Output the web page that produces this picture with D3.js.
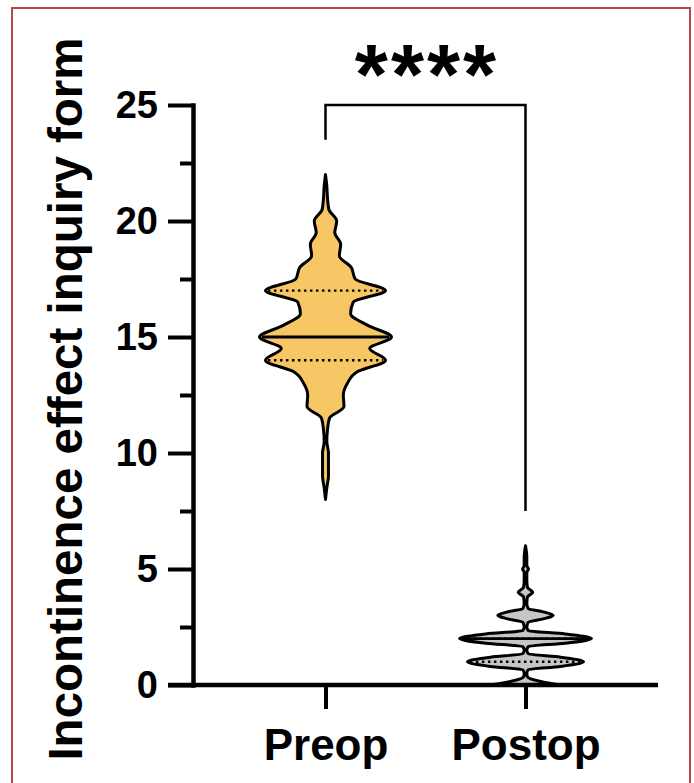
<!doctype html>
<html>
<head>
<meta charset="utf-8">
<title>Incontinence effect inquiry form</title>
<script src="https://d3js.org/d3.v7.min.js"></script>
<style>
  body { margin: 0; background: #fff; }
  svg text { font-family: "Liberation Sans", Arial, sans-serif; font-weight: bold; fill: #000; }
</style>
</head>
<body>
<svg width="694" height="783"></svg>
<script>
var GROUPS = ["Preop", "Postop"];

// violin outlines: score level and relative density (max = 100)
var PREOP_LEVELS  = [8, 8.5, 9, 9.5, 10, 10.5, 11, 11.5, 12, 12.5, 13, 13.5, 14, 14.5, 15, 15.5, 16, 16.5, 17, 17.5, 18, 18.5, 19, 19.5, 20, 20.5, 21, 21.5, 22];
var PREOP_DENSITY = [0, 2, 4.5, 4.5, 4.5, 2, 3, 6, 28, 27, 33, 48, 91, 67, 100, 64, 38, 42, 91, 45, 39, 21, 23, 14, 17, 5, 3, 2, 0];
var PREOP_QUARTILES = [14, 15, 17];

var POSTOP_LEVELS  = [0, 0.15, 0.35, 0.5, 0.65, 0.8, 1, 1.2, 1.35, 1.5, 1.65, 1.8, 2, 2.2, 2.35, 2.5, 2.7, 2.85, 3, 3.15, 3.3, 3.5, 3.8, 4, 4.2, 4.5, 4.85, 5, 5.15, 5.5, 6];
var POSTOP_DENSITY = [53, 23, 3, 2, 4, 53, 88, 53, 4, 2, 4, 60, 100, 60, 4, 2, 4, 27, 42, 27, 4, 2, 3, 11, 3, 2, 2, 4.5, 2, 2, 0];
var POSTOP_QUARTILES = [1, 2, 2];

var Y_MAJOR_TICKS = [0, 5, 10, 15, 20, 25];
var Y_MINOR_TICKS = [2.5, 7.5, 12.5, 17.5, 22.5];
var Y_TITLE = "Incontinence effect inquiry form";
var SIGNIFICANCE = "****";
var BRACKET_TOP = 25;
var BRACKET_ENDS = [23.5, 7.5];

var FILLS = { Preop: "#f7c766", Postop: "#c6c6c6" };

var violins = [
   { name: "Preop", levels: PREOP_LEVELS, density: PREOP_DENSITY, quartiles: PREOP_QUARTILES },
   { name: "Postop", levels: POSTOP_LEVELS, density: POSTOP_DENSITY, quartiles: POSTOP_QUARTILES }
];

const mLeft = 193, mRight = 658, mTop = 105, mBottom = 685;
const svg = d3.select("svg");

// frame
svg.append("rect")
   .attr("x", 12).attr("y", 8).attr("width", 678).attr("height", 800)
   .attr("fill", "none").attr("stroke", "#b9444f").attr("stroke-width", 2);

const y = d3.scaleLinear().domain([0, 25]).range([mBottom, mTop]);
const x = d3.scalePoint().domain(GROUPS).range([mLeft, mRight]).padding(0.6625);
const w = d3.scaleLinear().domain([0, 100]).range([0, 66]);

// violins
violins.forEach(function(v) {
   const cx = x(v.name);
   const pts = v.levels.map(function(l, i) { return { v: l, d: v.density[i] }; }).reverse();
   const area = d3.area()
      .y(function(d) { return y(d.v); })
      .x0(function(d) { return cx - w(d.d); })
      .x1(function(d) { return cx + w(d.d); })
      .curve(d3.curveMonotoneY);

   svg.append("path")
      .datum(pts)
      .attr("d", area)
      .attr("fill", FILLS[v.name])
      .attr("stroke", "#000")
      .attr("stroke-width", 3)
      .attr("stroke-linejoin", "round");

   v.quartiles.forEach(function(q, i) {
      const half = w(v.density[v.levels.indexOf(q)]) - 2.5;
      svg.append("line")
         .attr("x1", cx - half).attr("x2", cx + half)
         .attr("y1", y(q)).attr("y2", y(q))
         .attr("stroke", "#000")
         .attr("stroke-width", i == 1 ? 2.8 : 2.4)
         .attr("stroke-dasharray", i == 1 ? null : "2.5,3.5");
   });
});

// y axis
svg.append("g")
   .attr("transform", "translate(" + mLeft + ",0)")
   .call(d3.axisLeft(y).tickValues(Y_MINOR_TICKS).tickSize(13).tickFormat(""))
   .call(function(g) { g.select(".domain").remove(); })
   .selectAll("line").attr("stroke-width", 4);

svg.append("g")
   .attr("transform", "translate(" + mLeft + ",0)")
   .call(d3.axisLeft(y).tickValues(Y_MAJOR_TICKS).tickSize(25).tickSizeOuter(0).tickPadding(10))
   .call(function(g) {
      g.select(".domain").attr("stroke-width", 4.5).attr("stroke-linecap", "square");
      g.selectAll("line").attr("stroke-width", 4);
      g.selectAll("text").attr("font-size", 38).attr("font-family", null);
   });

// x axis
svg.append("line")
   .attr("x1", mLeft - 25).attr("x2", mRight)
   .attr("y1", mBottom).attr("y2", mBottom)
   .attr("stroke", "#000").attr("stroke-width", 4.5);

svg.append("g")
   .attr("transform", "translate(0," + mBottom + ")")
   .call(d3.axisBottom(x).tickSize(24).tickSizeOuter(0).tickPadding(20))
   .call(function(g) {
      g.select(".domain").remove();
      g.selectAll("line").attr("stroke-width", 4);
      g.selectAll("text").attr("font-size", 44).attr("font-family", null);
   });

// y title
svg.append("text")
   .attr("transform", "translate(82," + ((mTop + mBottom) / 2 + 4) + ") rotate(-90)")
   .attr("text-anchor", "middle")
   .attr("font-size", 47.5)
   .text(Y_TITLE);

// significance bracket
const bx0 = x(GROUPS[0]), bx1 = x(GROUPS[1]);
svg.append("path")
   .attr("d", "M" + bx0 + "," + y(BRACKET_ENDS[0]) + "V" + y(BRACKET_TOP) + "H" + bx1 + "V" + y(BRACKET_ENDS[1]))
   .attr("fill", "none").attr("stroke", "#000").attr("stroke-width", 2.5);

svg.append("text")
   .attr("x", (bx0 + bx1) / 2 + 1.5)
   .attr("y", y(BRACKET_TOP) - 1)
   .attr("text-anchor", "middle")
   .attr("font-size", 85)
   .attr("letter-spacing", 3)
   .text(SIGNIFICANCE);
</script>
</body>
</html>
